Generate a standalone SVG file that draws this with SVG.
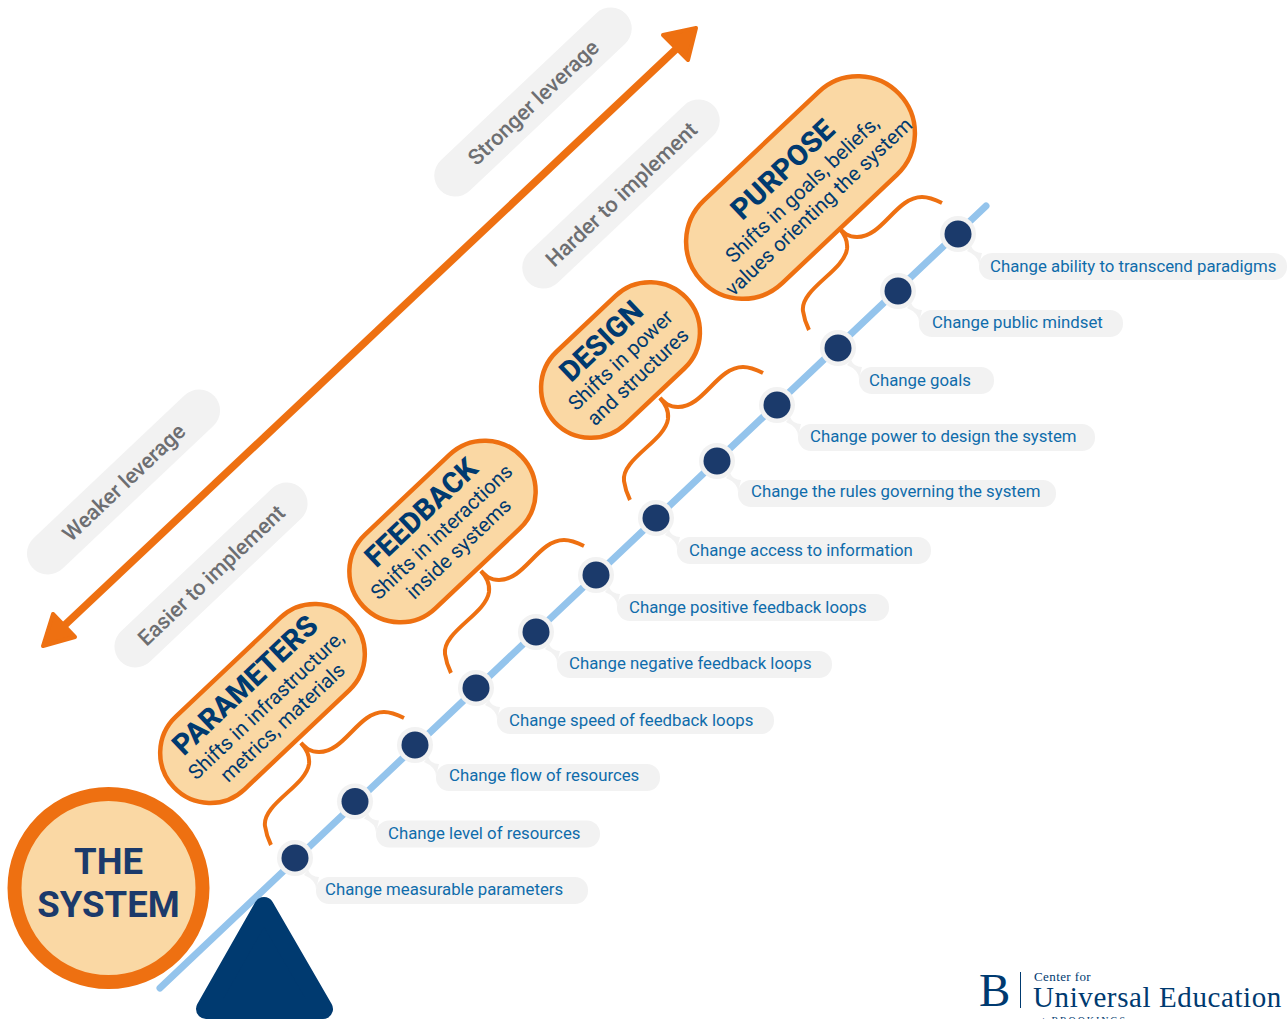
<svg xmlns="http://www.w3.org/2000/svg" xmlns:xlink="http://www.w3.org/1999/xlink" width="1288" height="1019" viewBox="0 0 1288 1019">
<style>
text{font-family:Roboto,"Liberation Sans",sans-serif}
.gp{fill:#f2f2f2}
.gt{fill:#6d6e71;font-size:21.6px;font-weight:500;text-anchor:middle}
.lv{fill:#fad8a4;stroke:#ee7011;stroke-width:4.5}
.tt{fill:#003a70;font-size:29px;font-weight:800;text-anchor:middle}
.st{fill:#003a70;font-size:20.4px;font-weight:400;text-anchor:middle}
.br{fill:none;stroke:#ee7011;stroke-width:4}
.ld{fill:#0f6cab;font-size:16.8px}
.dot{fill:#1b3a6b}
.lg{font-family:"Liberation Serif",serif;fill:#003a70}
</style>
<defs>
<g id="tab"><circle r="18" class="gp"/><path class="gp" d="M13,12Q16,19 24,19L21,31Q21,22 9,17Z"/></g>
<g id="brace"><path class="br" d="M301,743C306,748 310,752 319,752C345,752 358,712 384,712C392,712 398,715 404,718"/><path class="br" d="M301,743C306,749 310,755 309,764C306,786 262,804 265,826C266,833 268,839 271,845"/></g>
</defs>
<g id="hints">
<g id="stronger" transform="rotate(-43.4 533 102)"><rect class="gp" x="405" y="81" width="256" height="42" rx="21"/><text class="gt" x="533" y="110">Stronger leverage</text></g>
<g id="harder" transform="rotate(-43.4 621 194)"><rect class="gp" x="493" y="173" width="256" height="42" rx="21"/><text class="gt" x="621" y="202">Harder to implement</text></g>
<g id="weaker" transform="rotate(-43.4 123.500 482)"><rect class="gp" x="-1.500" y="461" width="250" height="42" rx="21"/><text class="gt" x="123.500" y="490">Weaker leverage</text></g>
<g id="easier" transform="rotate(-43.4 211 575)"><rect class="gp" x="86" y="554" width="250" height="42" rx="21"/><text class="gt" x="211" y="583">Easier to implement</text></g>
</g>
<g id="connectors">
<path d="M690,36L50,639" fill="none" stroke="#ee7011" stroke-width="7.5"/>
<polygon points="696,28 663,35 688,60" fill="#ee7011" stroke="#ee7011" stroke-width="4" stroke-linejoin="round"/>
<polygon points="43,646 53,614 75,637" fill="#ee7011" stroke="#ee7011" stroke-width="4" stroke-linejoin="round"/>
<path d="M160,988L986,206" fill="none" stroke="#94c4ec" stroke-width="7" stroke-linecap="round"/>
<use xlink:href="#brace" href="#brace"/>
<use xlink:href="#brace" href="#brace" transform="translate(180 -172)"/>
<use xlink:href="#brace" href="#brace" transform="translate(359 -345)"/>
<use xlink:href="#brace" href="#brace" transform="translate(538 -515)"/>
</g>
<g id="system"><circle cx="108.500" cy="888" r="94" fill="#fad8a4" stroke="#ee7011" stroke-width="14"/>
<text x="108.500" y="874" text-anchor="middle" font-size="36.500" font-weight="700" fill="#1b3a6b">THE</text>
<text x="108.500" y="917" text-anchor="middle" font-size="36.500" font-weight="700" fill="#1b3a6b">SYSTEM</text></g>
<g id="fulcrum"><polygon points="264,907 323,1009 206,1009" fill="#003a70" stroke="#003a70" stroke-width="20" stroke-linejoin="round"/></g>
<g id="parameters" transform="rotate(-43.4 262.500 703.500)"><rect class="lv" x="140.500" y="653.500" width="244" height="100" rx="50"/>
<text class="tt" x="262.500" y="688">PARAMETERS</text><text class="st" x="264" y="714">Shifts in infrastructure,</text><text class="st" x="264" y="738">metrics, materials</text></g>
<g id="feedback" transform="rotate(-43.4 442.500 531.500)"><rect class="lv" x="333.500" y="480.500" width="218" height="102" rx="51"/>
<text class="tt" x="440" y="513">FEEDBACK</text><text class="st" x="441.500" y="538">Shifts in interactions</text><text class="st" x="442.500" y="562">inside systems</text></g>
<g id="design" transform="rotate(-43.4 620.500 360)"><rect class="lv" x="530" y="310" width="181" height="100" rx="50"/>
<text class="tt" x="619.500" y="343">DESIGN</text><text class="st" x="620.500" y="367">Shifts in power</text><text class="st" x="621.500" y="391">and structures</text></g>
<g id="purpose" transform="rotate(-43.4 800.500 187.500)"><rect class="lv" x="664.500" y="130.500" width="272" height="114" rx="57"/>
<text class="tt" x="800" y="172">PURPOSE</text><text class="st" x="800.500" y="197">Shifts in goals, beliefs,</text><text class="st" x="800.500" y="221">values orienting the system</text></g>
<g id="s1" transform="translate(295 858)"><use xlink:href="#tab" href="#tab"/><rect class="gp" x="21" y="19" width="272" height="27" rx="13"/><circle r="13.500" class="dot"/><text class="ld" x="30" y="37">Change measurable parameters</text></g>
<g id="s2" transform="translate(355 801.500)"><use xlink:href="#tab" href="#tab"/><rect class="gp" x="21" y="19" width="224" height="27" rx="13"/><circle r="13.500" class="dot"/><text class="ld" x="33" y="37.500">Change level of resources</text></g>
<g id="s3" transform="translate(415 745)"><use xlink:href="#tab" href="#tab"/><rect class="gp" x="21" y="19" width="224" height="27" rx="13"/><circle r="13.500" class="dot"/><text class="ld" x="34" y="36">Change flow of resources</text></g>
<g id="s4" transform="translate(476 688)"><use xlink:href="#tab" href="#tab"/><rect class="gp" x="21" y="19" width="277" height="27" rx="13"/><circle r="13.500" class="dot"/><text class="ld" x="33" y="38">Change speed of feedback loops</text></g>
<g id="s5" transform="translate(536 632)"><use xlink:href="#tab" href="#tab"/><rect class="gp" x="21" y="19" width="275" height="27" rx="13"/><circle r="13.500" class="dot"/><text class="ld" x="33" y="37">Change negative feedback loops</text></g>
<g id="s6" transform="translate(596 575)"><use xlink:href="#tab" href="#tab"/><rect class="gp" x="21" y="19" width="272" height="27" rx="13"/><circle r="13.500" class="dot"/><text class="ld" x="33" y="38">Change positive feedback loops</text></g>
<g id="s7" transform="translate(656 518)"><use xlink:href="#tab" href="#tab"/><rect class="gp" x="21" y="19" width="254" height="27" rx="13"/><circle r="13.500" class="dot"/><text class="ld" x="33" y="38">Change access to information</text></g>
<g id="s8" transform="translate(717 461)"><use xlink:href="#tab" href="#tab"/><rect class="gp" x="21" y="19" width="318" height="27" rx="13"/><circle r="13.500" class="dot"/><text class="ld" x="34" y="36">Change the rules governing the system</text></g>
<g id="s9" transform="translate(777 405)"><use xlink:href="#tab" href="#tab"/><rect class="gp" x="21" y="19" width="297" height="27" rx="13"/><circle r="13.500" class="dot"/><text class="ld" x="33" y="37">Change power to design the system</text></g>
<g id="s10" transform="translate(838 348)"><use xlink:href="#tab" href="#tab"/><rect class="gp" x="21" y="19" width="135" height="27" rx="13"/><circle r="13.500" class="dot"/><text class="ld" x="31" y="38">Change goals</text></g>
<g id="s11" transform="translate(898 291)"><use xlink:href="#tab" href="#tab"/><rect class="gp" x="21" y="19" width="204" height="27" rx="13"/><circle r="13.500" class="dot"/><text class="ld" x="34" y="37">Change public mindset</text></g>
<g id="s12" transform="translate(958 234)"><use xlink:href="#tab" href="#tab"/><rect class="gp" x="21" y="19" width="308" height="27" rx="13"/><circle r="13.500" class="dot"/><text class="ld" x="32" y="38">Change ability to transcend paradigms</text></g>
<g id="logo">
<text class="lg" x="979" y="1006" font-size="47">B</text>
<rect x="1020" y="972" width="1" height="36" fill="#003a70"/>
<text class="lg" x="1034" y="981" font-size="13" letter-spacing="0.4">Center for</text>
<text class="lg" x="1033" y="1007" font-size="29" letter-spacing="0.6">Universal Education</text>
<text class="lg" x="1036" y="1024" font-size="10" letter-spacing="1.900">at BROOKINGS</text>
</g>
</svg>
